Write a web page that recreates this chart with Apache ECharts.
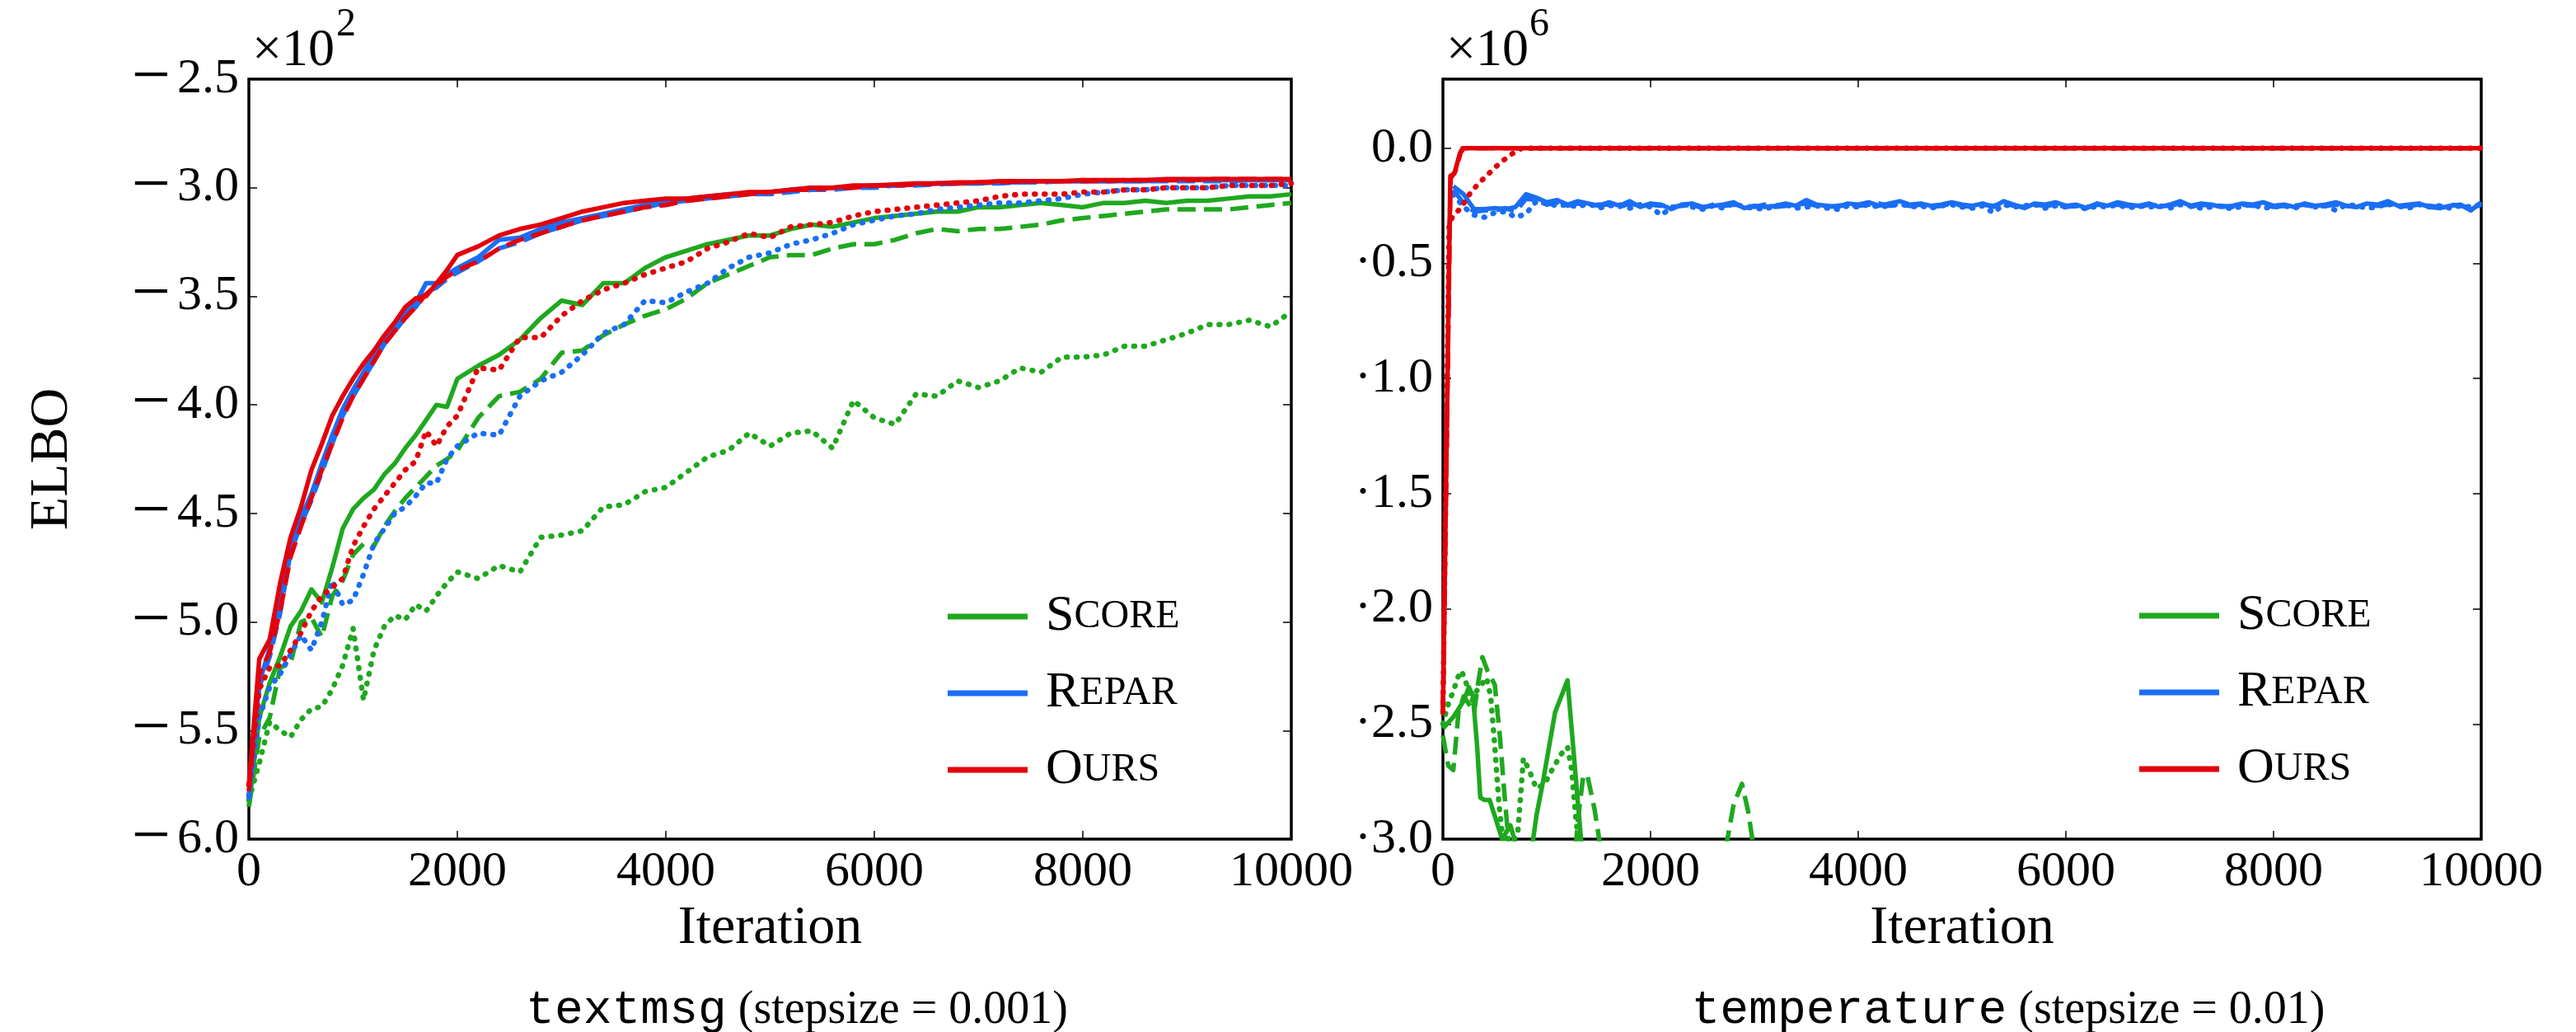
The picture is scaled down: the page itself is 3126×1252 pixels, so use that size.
<!DOCTYPE html>
<html>
<head>
<meta charset="utf-8">
<script src="https://cdn.jsdelivr.net/npm/echarts@6/dist/echarts.min.js"></script>
<style>
  html, body { margin: 0; padding: 0; background: #fff; }
  #main { width: 3126px; height: 1252px; }
</style>
</head>
<body>
<div id="main"></div>
<script>
// ---- textmsg (left panel), ELBO in units of 1e2 ----
var itersA = [0,100,200,300,400,500,600,700,800,900,1000,1100,1200,1300,1400,1500,1600,1700,1800,1900,2000,
  2200,2400,2600,2800,3000,3200,3400,3600,3800,4000,
  4200,4400,4600,4800,5000,5200,5400,5600,5800,6000,
  6200,6400,6600,6800,7000,7200,7400,7600,7800,8000,
  8200,8400,8600,8800,9000,9200,9400,9600,9800,10000];

var scoreSolidA = [-5.85,-5.44,-5.28,-5.16,-5.02,-4.95,-4.85,-4.91,-4.75,-4.57,-4.48,-4.43,-4.39,-4.32,-4.27,-4.20,-4.14,-4.07,-4.00,-4.01,-3.88,
  -3.82,-3.77,-3.70,-3.60,-3.52,-3.54,-3.44,-3.44,-3.37,-3.32,
  -3.29,-3.26,-3.24,-3.22,-3.22,-3.19,-3.17,-3.18,-3.16,-3.14,
  -3.13,-3.12,-3.11,-3.11,-3.09,-3.09,-3.08,-3.07,-3.08,-3.09,
  -3.07,-3.07,-3.06,-3.07,-3.06,-3.06,-3.05,-3.04,-3.04,-3.03];
var scoreDashA = [-5.85,-5.53,-5.44,-5.21,-5.19,-5.00,-4.98,-5.07,-4.88,-4.81,-4.69,-4.64,-4.65,-4.56,-4.49,-4.43,-4.38,-4.33,-4.28,-4.25,-4.21,
  -4.06,-3.96,-3.94,-3.88,-3.76,-3.75,-3.68,-3.63,-3.59,-3.56,
  -3.51,-3.44,-3.40,-3.36,-3.32,-3.31,-3.31,-3.28,-3.26,-3.26,
  -3.24,-3.21,-3.19,-3.20,-3.19,-3.19,-3.18,-3.17,-3.15,-3.14,
  -3.13,-3.12,-3.11,-3.10,-3.10,-3.10,-3.10,-3.09,-3.08,-3.07];
var scoreDotA = [-5.82,-5.65,-5.46,-5.50,-5.53,-5.45,-5.40,-5.39,-5.31,-5.20,-5.03,-5.36,-5.13,-5.02,-4.97,-4.99,-4.92,-4.95,-4.88,-4.82,-4.77,
  -4.80,-4.74,-4.77,-4.61,-4.60,-4.58,-4.47,-4.46,-4.40,-4.38,
  -4.31,-4.24,-4.21,-4.13,-4.19,-4.13,-4.12,-4.20,-3.98,-4.06,
  -4.09,-3.95,-3.96,-3.89,-3.92,-3.89,-3.83,-3.85,-3.78,-3.78,
  -3.77,-3.73,-3.73,-3.70,-3.67,-3.63,-3.63,-3.61,-3.64,-3.57];

var reparSolidA = [-5.80,-5.28,-5.12,-4.90,-4.64,-4.52,-4.41,-4.27,-4.14,-4.02,-3.93,-3.85,-3.77,-3.70,-3.65,-3.58,-3.53,-3.44,-3.44,-3.40,-3.37,
  -3.32,-3.24,-3.23,-3.19,-3.16,-3.14,-3.12,-3.10,-3.08,-3.06,
  -3.05,-3.04,-3.03,-3.03,-3.02,-3.01,-3.00,-3.00,-2.995,-2.99,
  -2.99,-2.985,-2.98,-2.98,-2.98,-2.975,-2.975,-2.97,-2.97,-2.97,
  -2.97,-2.97,-2.97,-2.965,-2.965,-2.965,-2.965,-2.965,-2.965,-2.965];
var reparDashA = [-5.82,-5.30,-5.16,-4.96,-4.68,-4.55,-4.44,-4.31,-4.18,-4.05,-3.96,-3.88,-3.80,-3.72,-3.66,-3.60,-3.55,-3.48,-3.46,-3.42,-3.39,
  -3.34,-3.28,-3.25,-3.21,-3.18,-3.15,-3.13,-3.11,-3.09,-3.07,
  -3.06,-3.05,-3.04,-3.03,-3.03,-3.02,-3.01,-3.01,-3.00,-3.00,
  -2.99,-2.99,-2.985,-2.98,-2.98,-2.98,-2.975,-2.975,-2.97,-2.97,
  -2.97,-2.97,-2.97,-2.97,-2.97,-2.97,-2.97,-2.965,-2.965,-2.965];
var reparDotA = [-5.80,-5.44,-5.30,-5.24,-5.15,-5.06,-5.13,-5.00,-4.81,-4.92,-4.90,-4.78,-4.64,-4.57,-4.50,-4.47,-4.42,-4.36,-4.36,-4.25,-4.19,
  -4.13,-4.14,-3.96,-3.89,-3.85,-3.77,-3.67,-3.63,-3.52,-3.53,
  -3.48,-3.44,-3.37,-3.32,-3.30,-3.26,-3.24,-3.21,-3.17,-3.15,
  -3.13,-3.12,-3.10,-3.09,-3.08,-3.07,-3.07,-3.06,-3.05,-3.03,
  -3.02,-3.01,-3.01,-3.00,-3.00,-3.00,-2.99,-2.99,-2.99,-2.99];

var oursSolidA = [-5.75,-5.17,-5.08,-4.82,-4.61,-4.47,-4.30,-4.18,-4.05,-3.96,-3.88,-3.81,-3.75,-3.68,-3.62,-3.55,-3.51,-3.50,-3.44,-3.38,-3.31,
  -3.27,-3.22,-3.19,-3.17,-3.14,-3.11,-3.09,-3.07,-3.06,-3.05,
  -3.05,-3.04,-3.03,-3.02,-3.02,-3.01,-3.00,-3.00,-2.99,-2.99,
  -2.985,-2.98,-2.98,-2.975,-2.975,-2.97,-2.97,-2.97,-2.97,-2.965,
  -2.965,-2.965,-2.965,-2.96,-2.96,-2.96,-2.96,-2.96,-2.96,-2.96];
var oursDashA = [-5.78,-5.24,-5.14,-4.95,-4.70,-4.56,-4.43,-4.30,-4.18,-4.06,-3.96,-3.88,-3.80,-3.72,-3.66,-3.60,-3.55,-3.49,-3.45,-3.41,-3.38,
  -3.34,-3.28,-3.24,-3.21,-3.18,-3.15,-3.13,-3.11,-3.09,-3.08,
  -3.06,-3.05,-3.04,-3.03,-3.02,-3.01,-3.01,-3.00,-3.00,-2.99,
  -2.99,-2.985,-2.98,-2.98,-2.975,-2.975,-2.97,-2.97,-2.97,-2.97,
  -2.97,-2.965,-2.965,-2.965,-2.965,-2.96,-2.96,-2.96,-2.96,-2.96];
var oursDotA = [-5.75,-5.31,-5.21,-5.20,-5.13,-5.05,-4.95,-4.88,-4.84,-4.80,-4.65,-4.56,-4.48,-4.42,-4.36,-4.30,-4.26,-4.12,-4.19,-4.10,-4.05,
  -3.83,-3.84,-3.69,-3.69,-3.59,-3.52,-3.47,-3.44,-3.40,-3.37,
  -3.34,-3.28,-3.25,-3.21,-3.23,-3.18,-3.17,-3.16,-3.13,-3.11,
  -3.10,-3.09,-3.08,-3.07,-3.06,-3.04,-3.03,-3.03,-3.03,-3.02,
  -3.02,-3.01,-3.01,-3.00,-3.00,-3.00,-2.99,-2.99,-2.99,-2.98];

// ---- temperature (right panel), ELBO in units of 1e6 ----
var scoreSolidTIt = [0,100,200,250,290,330,360,400,450,500,570,650,700,780,860,900,960,1080,1200,1330,1380];
var scoreSolidT = [-2.52,-2.47,-2.40,-2.34,-2.38,-2.60,-2.82,-2.83,-2.83,-2.90,-3.00,-2.94,-3.02,-3.12,-3.03,-2.90,-2.76,-2.45,-2.31,-3.00,-3.20];
var scoreDashTIt = [0,50,100,150,200,260,300,340,380,430,500,550,590,630,680,1250,1300,1350,1390,1460,1505,1550,2680,2740,2800,2880,2940,2980,3030];
var scoreDashT = [-2.55,-2.68,-2.70,-2.45,-2.38,-2.42,-2.45,-2.32,-2.21,-2.27,-2.33,-2.56,-2.79,-3.00,-3.25,-3.20,-2.92,-2.73,-2.72,-2.87,-3.00,-3.20,-3.20,-3.00,-2.85,-2.76,-2.88,-3.00,-3.20];
var scoreDotTIt = [0,60,100,140,180,230,280,320,370,420,460,500,540,570,610,680,720,775,830,900,980,1050,1140,1200,1240,1280,1310,1350];
var scoreDotT = [-2.50,-2.40,-2.36,-2.30,-2.27,-2.33,-2.40,-2.36,-2.33,-2.30,-2.38,-2.60,-2.85,-2.97,-3.00,-3.00,-2.98,-2.65,-2.70,-2.78,-2.76,-2.70,-2.63,-2.60,-2.70,-2.91,-3.02,-3.20];

var reparItersT = [];
for (var it = 100; it <= 10000; it += 100) reparItersT.push(it);
var reparSolidT = [-0.165,-0.20,-0.265,-0.265,-0.26,-0.265,-0.255,-0.20,-0.215,-0.235,
  -0.225,-0.245,-0.23,-0.24,-0.25,-0.235,-0.25,-0.23,-0.255,-0.24,
  -0.245,-0.265,-0.245,-0.24,-0.255,-0.25,-0.245,-0.235,-0.26,-0.25,
  -0.255,-0.25,-0.24,-0.25,-0.225,-0.245,-0.25,-0.255,-0.24,-0.245,
  -0.235,-0.25,-0.24,-0.23,-0.245,-0.24,-0.25,-0.245,-0.235,-0.245,
  -0.25,-0.24,-0.255,-0.23,-0.245,-0.26,-0.24,-0.245,-0.235,-0.25,
  -0.245,-0.26,-0.24,-0.25,-0.235,-0.245,-0.25,-0.24,-0.255,-0.245,
  -0.23,-0.25,-0.24,-0.245,-0.255,-0.25,-0.24,-0.245,-0.235,-0.25,
  -0.245,-0.255,-0.24,-0.25,-0.245,-0.235,-0.25,-0.255,-0.24,-0.245,
  -0.23,-0.25,-0.245,-0.24,-0.255,-0.26,-0.25,-0.245,-0.27,-0.235];
var reparDashT = [-0.18,-0.24,-0.275,-0.27,-0.27,-0.26,-0.275,-0.22,-0.225,-0.245,
  -0.235,-0.25,-0.24,-0.25,-0.245,-0.245,-0.255,-0.24,-0.25,-0.245,
  -0.25,-0.255,-0.25,-0.245,-0.26,-0.245,-0.25,-0.245,-0.25,-0.255,
  -0.245,-0.255,-0.25,-0.245,-0.24,-0.25,-0.255,-0.25,-0.245,-0.25,
  -0.245,-0.24,-0.25,-0.245,-0.25,-0.245,-0.255,-0.25,-0.24,-0.25,
  -0.255,-0.245,-0.25,-0.24,-0.25,-0.255,-0.245,-0.25,-0.245,-0.255,
  -0.25,-0.255,-0.245,-0.25,-0.245,-0.25,-0.255,-0.245,-0.25,-0.25,
  -0.24,-0.255,-0.245,-0.25,-0.25,-0.255,-0.245,-0.25,-0.245,-0.255,
  -0.25,-0.25,-0.245,-0.255,-0.25,-0.245,-0.25,-0.255,-0.245,-0.25,
  -0.245,-0.255,-0.25,-0.245,-0.25,-0.255,-0.245,-0.25,-0.26,-0.245];
var reparDotT = [-0.20,-0.255,-0.29,-0.30,-0.28,-0.275,-0.30,-0.285,-0.23,-0.24,
  -0.25,-0.245,-0.255,-0.24,-0.26,-0.25,-0.245,-0.26,-0.245,-0.255,
  -0.29,-0.26,-0.245,-0.255,-0.265,-0.25,-0.26,-0.24,-0.255,-0.26,
  -0.265,-0.25,-0.245,-0.26,-0.255,-0.25,-0.26,-0.265,-0.25,-0.255,
  -0.245,-0.255,-0.25,-0.24,-0.255,-0.25,-0.26,-0.25,-0.245,-0.255,
  -0.26,-0.25,-0.28,-0.245,-0.255,-0.25,-0.245,-0.26,-0.25,-0.255,
  -0.25,-0.265,-0.25,-0.255,-0.245,-0.26,-0.25,-0.255,-0.25,-0.26,
  -0.245,-0.25,-0.26,-0.255,-0.25,-0.265,-0.25,-0.245,-0.26,-0.255,
  -0.25,-0.26,-0.245,-0.255,-0.25,-0.27,-0.245,-0.25,-0.26,-0.255,
  -0.24,-0.25,-0.26,-0.245,-0.255,-0.25,-0.26,-0.25,-0.255,-0.245];

var oursSolidTIt = [0,64,72,110,165,190,10000];
var oursSolidT = [-2.45,-0.34,-0.12,-0.11,-0.02,0,0];
var oursDashTIt = [0,66,75,120,170,200,10000];
var oursDashT = [-2.45,-0.33,-0.13,-0.10,-0.02,0,0];
var oursDotTIt = [0,60,90,150,200,270,350,420,510,590,680,760,10000];
var oursDotT = [-2.45,-0.33,-0.30,-0.27,-0.24,-0.19,-0.15,-0.12,-0.08,-0.05,-0.02,0,0];

var legendNames = ['Score','Repar','Ours'];
var smallCaps = { Score: ['S','CORE'], Repar: ['R','EPAR'], Ours: ['O','URS'] };

var SERIF = 'Liberation Serif';
var MONO = 'Liberation Mono';
var GREEN = '#1fa81f', BLUE = '#1a6ef5', RED = '#e3000b';
var LW = { solid: 5.5, dash: 5.5, dot: 6.5 };
var DASH = { solid: 'solid', dash: [22, 10], dot: [1, 11] };

var chart = echarts.init(document.getElementById('main'));

var pairs = function (xs, ys) {
  return xs.map(function (x, i) { return [x, ys[i]]; });
};

var mkLine = function (name, color, kind, xs, ys, gi) {
  return {
    name: name,
    type: 'line',
    xAxisIndex: gi * 2,
    yAxisIndex: gi * 2,
    data: pairs(xs, ys),
    symbol: 'none',
    showSymbol: false,
    clip: true,
    silent: true,
    animation: false,
    itemStyle: { color: color },
    lineStyle: { color: color, width: LW[kind], type: DASH[kind], cap: kind === 'dot' ? 'round' : 'butt', join: 'round' }
  };
};

// left panel labels: long math minus like the TeX rendering
var fmtMinus = function (v) {
  var r = Math.round(v * 10) / 10;
  var s = Math.abs(r).toFixed(1);
  return r < 0 ? '{m|\u2212}{d|' + s + '}' : '{d|' + s + '}';
};

var tickStyle = { show: true, inside: true, length: 10, lineStyle: { color: '#000', width: 1.5 } };

var xAxisPair = function (gi) {
  var base = {
    gridIndex: gi, type: 'value', min: 0, max: 10000, interval: 2000,
    axisLine: { show: false, onZero: false },
    axisTick: tickStyle,
    splitLine: { show: false }
  };
  return [
    Object.assign({}, base, {
      position: 'bottom',
      axisLabel: { show: true, margin: 10, color: '#000', fontFamily: SERIF, fontSize: 60,
        formatter: function (v) { return String(v); } },
      name: 'Iteration', nameLocation: 'middle', nameGap: 76,
      nameTextStyle: { color: '#000', fontFamily: SERIF, fontSize: 66 }
    }),
    Object.assign({}, base, { position: 'top', axisLabel: { show: false } })
  ];
};

var yAxisPair = function (gi, min, max, fmt, extra) {
  var base = {
    gridIndex: gi, type: 'value', min: min, max: max, interval: 0.5,
    axisLine: { show: false, onZero: false },
    axisTick: tickStyle,
    splitLine: { show: false }
  };
  return [
    Object.assign({}, base, {
      position: 'left',
      axisLabel: { show: true, margin: 12, color: '#000', fontFamily: SERIF, fontSize: 60, formatter: fmt,
        rich: {
          m: { fontFamily: SERIF, fontSize: 84, color: '#000', lineHeight: 60, padding: [0, 8, 0, 0] },
          d: { fontFamily: SERIF, fontSize: 60, color: '#000', lineHeight: 60 }
        } }
    }, extra || {}),
    Object.assign({}, base, { position: 'right', axisLabel: { show: false } })
  ];
};

var legendFor = function (left, top) {
  return {
    data: legendNames,
    orient: 'vertical',
    left: left,
    top: top,
    itemWidth: 97,
    itemHeight: 7,
    itemGap: 31,
    icon: 'rect',
    selectedMode: false,
    formatter: function (name) {
      return '{a|' + smallCaps[name][0] + '}{b|' + smallCaps[name][1] + '}';
    },
    textStyle: {
      color: '#000', fontFamily: SERIF, fontSize: 62, padding: [0, 0, 0, 17],
      rich: {
        a: { fontFamily: SERIF, fontSize: 62, color: '#000', lineHeight: 60 },
        b: { fontFamily: SERIF, fontSize: 48, color: '#000', lineHeight: 60 }
      }
    }
  };
};

var xA = xAxisPair(0), xB = xAxisPair(1);
var yA = yAxisPair(0, -6, -2.5, fmtMinus, {
  name: 'ELBO', nameLocation: 'middle', nameGap: 205, nameRotate: 90,
  nameTextStyle: { color: '#000', fontFamily: SERIF, fontSize: 66 }
});
var yB = yAxisPair(1, -3, 0.3, function (v) {
  var r = Math.round(v * 10) / 10;
  if (Math.abs(r * 2 - Math.round(r * 2)) > 1e-6 || r > 0) return '';
  return r < 0 ? '{d|\u00b7' + Math.abs(r).toFixed(1) + '}' : '{d|0.0}';
});

var series = [
  mkLine('Score', GREEN, 'solid', itersA, scoreSolidA, 0),
  mkLine('Score', GREEN, 'dash', itersA, scoreDashA, 0),
  mkLine('Score', GREEN, 'dot', itersA, scoreDotA, 0),
  mkLine('Repar', BLUE, 'solid', itersA, reparSolidA, 0),
  mkLine('Repar', BLUE, 'dash', itersA, reparDashA, 0),
  mkLine('Repar', BLUE, 'dot', itersA, reparDotA, 0),
  mkLine('Ours', RED, 'solid', itersA, oursSolidA, 0),
  mkLine('Ours', RED, 'dash', itersA, oursDashA, 0),
  mkLine('Ours', RED, 'dot', itersA, oursDotA, 0),

  mkLine('Score', GREEN, 'solid', scoreSolidTIt, scoreSolidT, 1),
  mkLine('Score', GREEN, 'dash', scoreDashTIt, scoreDashT, 1),
  mkLine('Score', GREEN, 'dot', scoreDotTIt, scoreDotT, 1),
  mkLine('Repar', BLUE, 'solid', reparItersT, reparSolidT, 1),
  mkLine('Repar', BLUE, 'dash', reparItersT, reparDashT, 1),
  mkLine('Repar', BLUE, 'dot', reparItersT, reparDotT, 1),
  mkLine('Ours', RED, 'solid', oursSolidTIt, oursSolidT, 1),
  mkLine('Ours', RED, 'dash', oursDashTIt, oursDashT, 1),
  mkLine('Ours', RED, 'dot', oursDotTIt, oursDotT, 1)
];

var caption = function (cx, tt, rm) {
  return {
    type: 'text', x: cx, y: 1226,
    style: {
      text: '{tt|' + tt + '}{rm| ' + rm + '}', align: 'center', verticalAlign: 'middle',
      rich: {
        tt: { fontFamily: MONO, fontSize: 58, fill: '#000' },
        rm: { fontFamily: SERIF, fontSize: 56, fill: '#000' }
      }
    }
  };
};

chart.setOption({
  backgroundColor: '#fff',
  animation: false,
  grid: [
    { left: 302, top: 96, width: 1265, height: 922, show: true, borderColor: '#000', borderWidth: 3.5, backgroundColor: 'transparent' },
    { left: 1751, top: 96, width: 1260, height: 922, show: true, borderColor: '#000', borderWidth: 3.5, backgroundColor: 'transparent' }
  ],
  xAxis: [xA[0], xA[1], xB[0], xB[1]],
  yAxis: [yA[0], yA[1], yB[0], yB[1]],
  legend: [legendFor(1145, 712), legendFor(2591, 711)],
  graphic: [
    { type: 'text', left: 306, top: 30, style: { text: '\u00d710', fontFamily: SERIF, fontSize: 64, fill: '#000' } },
    { type: 'text', left: 408, top: 6, style: { text: '2', fontFamily: SERIF, fontSize: 48, fill: '#000' } },
    { type: 'text', left: 1755, top: 30, style: { text: '\u00d710', fontFamily: SERIF, fontSize: 64, fill: '#000' } },
    { type: 'text', left: 1856, top: 6, style: { text: '6', fontFamily: SERIF, fontSize: 48, fill: '#000' } },
    caption(967, 'textmsg', '(stepsize = 0.001)'),
    caption(2437, 'temperature', '(stepsize = 0.01)')
  ],
  series: series
});
</script>
</body>
</html>
